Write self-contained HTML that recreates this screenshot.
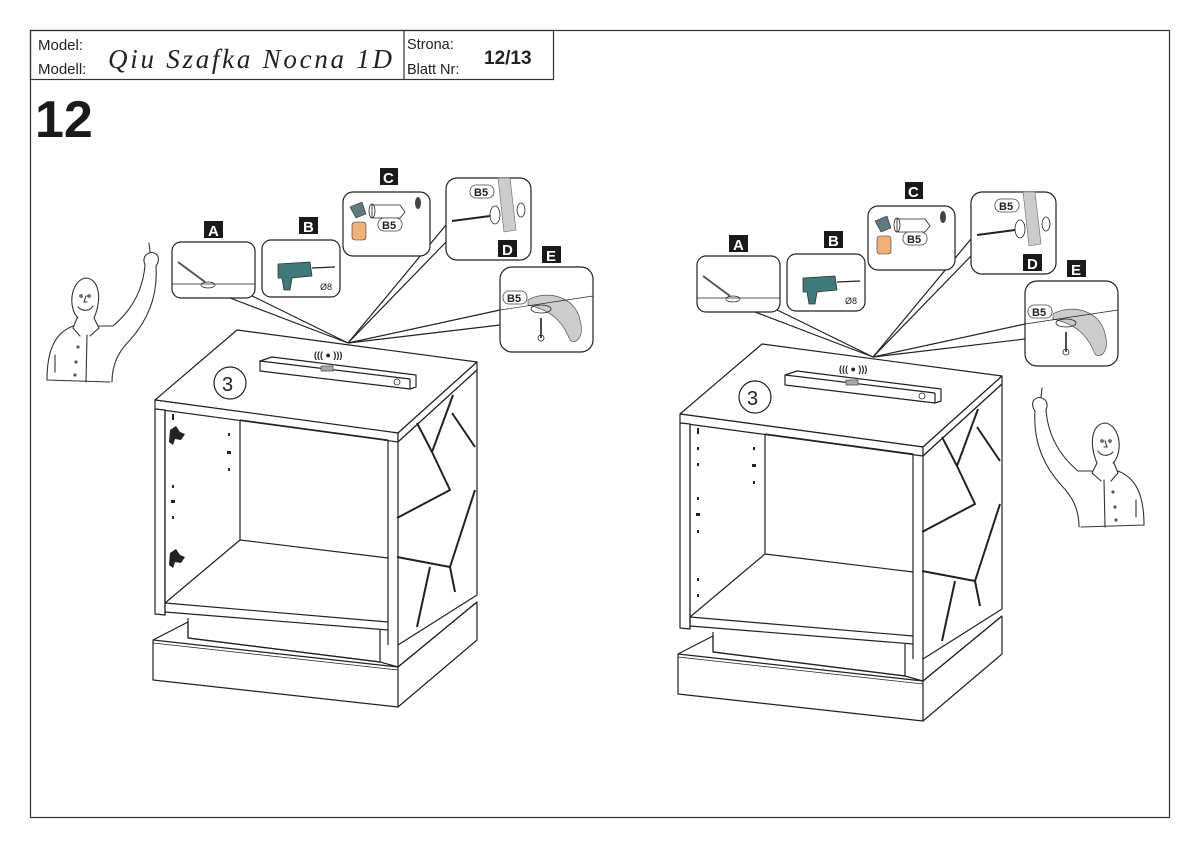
<!DOCTYPE html>
<html><head><meta charset="utf-8"><style>
html,body{margin:0;padding:0;background:#fff;}
svg{display:block;}
text{font-family:"Liberation Sans",sans-serif;}
</style></head><body>
<svg width="1200" height="848" viewBox="0 0 1200 848" xmlns="http://www.w3.org/2000/svg">
<rect x="0" y="0" width="1200" height="848" fill="#fff"/>
<rect x="30.5" y="30.5" width="1139" height="787" fill="none" stroke="#333" stroke-width="1.2"/>
<rect x="30.5" y="30.5" width="523" height="49" fill="none" stroke="#333" stroke-width="1.2"/>
<line x1="404" y1="30" x2="404" y2="80" stroke="#333" stroke-width="1.2"/>
<text x="38" y="50" font-size="15" fill="#222">Model:</text>
<text x="38" y="74" font-size="15" fill="#222">Modell:</text>
<text x="108" y="68" font-size="27" font-style="italic" fill="#222" style="font-family:'Liberation Serif',serif" textLength="284">Qiu Szafka Nocna 1D</text>
<text x="407" y="49" font-size="14.5" fill="#222">Strona:</text>
<text x="407" y="74" font-size="14.5" fill="#222">Blatt Nr:</text>
<text x="484" y="64" font-size="19" font-weight="bold" fill="#222">12/13</text>
<text x="35" y="137" font-size="52" font-weight="bold" fill="#1a1a1a">12</text>

<defs>
<g id="cab" fill="none" stroke="#222" stroke-width="1.2" stroke-linejoin="round">
  <!-- callout lines -->
  <line x1="230" y1="298" x2="348" y2="343"/>
  <line x1="240" y1="290" x2="348" y2="343"/>
  <line x1="446" y1="225" x2="348" y2="343"/>
  <line x1="448" y1="240" x2="348" y2="343"/>
  <line x1="500" y1="310" x2="348" y2="343"/>
  <line x1="500" y1="325" x2="348" y2="343"/>
  <!-- callout boxes -->
  <rect x="172" y="242" width="83" height="56" rx="9" fill="#fff"/>
  <line x1="172" y1="284" x2="255" y2="284" stroke-width="0.8"/>
  <line x1="178" y1="262" x2="205" y2="282" stroke-width="2" stroke="#555"/>
  <ellipse cx="208" cy="285" rx="7" ry="3" stroke-width="0.7"/>
  <rect x="262" y="240" width="78" height="57" rx="9" fill="#fff"/>
  <path d="M278 264 L310 262 L312 276 L292 278 L290 290 L284 290 L282 278 L278 278 Z" fill="#3f7a78" stroke="#333" stroke-width="0.8"/>
  <line x1="312" y1="268" x2="335" y2="267"/>
  <rect x="343" y="192" width="87" height="64" rx="10" fill="#fff"/>
  <path d="M350 207 L362 202 L366 214 L356 218 Z" fill="#607a80" stroke="#333" stroke-width="0.6"/>
  <rect x="352" y="222" width="14" height="18" rx="3" fill="#f0b27a" stroke="#333" stroke-width="0.6"/>
  <path d="M372 205 L400 205 L405 212 L400 218 L372 218 Z" stroke-width="0.8"/>
  <ellipse cx="372" cy="211" rx="3" ry="7" stroke-width="0.8"/>
  <ellipse cx="418" cy="203" rx="3" ry="6" fill="#444" stroke="none"/>
  <rect x="446" y="178" width="85" height="82" rx="11" fill="#fff"/>
  <path d="M498 178 L510 178 L516 230 L504 232 Z" fill="#ccc" stroke="#666" stroke-width="0.6"/>
  <line x1="452" y1="221" x2="490" y2="216" stroke-width="2"/>
  <ellipse cx="495" cy="215" rx="5" ry="9" stroke-width="0.8"/>
  <ellipse cx="521" cy="210" rx="4" ry="7" stroke-width="0.8"/>
  <rect x="500" y="267" width="93" height="85" rx="12" fill="#fff"/>
  <path d="M528 300 C545 290 575 295 580 320 C585 338 575 345 570 340 C562 320 550 310 528 305 Z" fill="#ccc" stroke="#555" stroke-width="0.7"/>
  <line x1="500" y1="310" x2="593" y2="296" stroke-width="0.7"/>
  <ellipse cx="541" cy="309" rx="10" ry="4" stroke-width="0.8"/>
  <line x1="541" y1="318" x2="541" y2="338" stroke-width="1.6"/>
  <circle cx="541" cy="338" r="3" stroke-width="0.8"/>
  <!-- cabinet top -->
  <polygon points="237,330 477,362 398,433 155,400" fill="#fff"/>
  <polygon points="155,400 398,433 398,442 155,409" fill="#fff"/>
  <polygon points="398,433 477,362 477,370 398,442" fill="#fff"/>
  <!-- level -->
  <polygon points="260,361 272,357 416,375 416,387 410,389 260,371" fill="#fff"/>
  <line x1="260" y1="361" x2="410" y2="379"/>
  <line x1="410" y1="379" x2="410" y2="389"/>
  <rect x="321" y="366" width="12" height="5" fill="#aaa" stroke="#444" stroke-width="0.7"/>
  <circle cx="397" cy="382" r="3" stroke-width="0.8"/>
  <circle cx="230" cy="383" r="16"/>
  <!-- right side panel -->
  <polygon points="398,442 477,370 477,595 398,645" fill="#fff"/>
  <!-- left panel -->
  <polygon points="155,409 165,410 165,615 155,614" fill="#fff"/>
  <line x1="165" y1="410" x2="165" y2="615"/>
  <!-- inner -->
  <line x1="240" y1="420" x2="240" y2="540"/>
  <line x1="240" y1="420" x2="388" y2="440"/>
  <line x1="388" y1="440" x2="388" y2="645"/>
  <line x1="240" y1="540" x2="388" y2="558"/>
  <line x1="240" y1="540" x2="165" y2="603"/>
  <line x1="165" y1="603" x2="388" y2="622"/>
  <line x1="165" y1="612" x2="388" y2="630"/>
  <!-- decorative -->
  <g stroke-width="2">
    <polyline points="417,423 432,452 450,490 397,518"/>
    <polyline points="453,395 432,452"/>
    <polyline points="452,413 475,447"/>
    <polyline points="475,490 450,567 455,592"/>
    <polyline points="397,557 450,567"/>
    <polyline points="430,567 417,627"/>
  </g>
  <!-- plinth -->
  <polyline points="188,618 188,638 380,662 380,630"/>
  <polygon points="153,640 188,622 188,638 380,662 398,667 477,602 477,640 398,707 153,680" fill="none"/>
  <line x1="153" y1="640" x2="398" y2="667"/>
  <line x1="153" y1="643" x2="398" y2="670" stroke-width="0.7"/>
  <line x1="398" y1="667" x2="398" y2="707"/>
  <line x1="398" y1="667" x2="477" y2="602"/>
  <line x1="398" y1="645" x2="398" y2="667"/>
</g>
</defs>

<use href="#cab"/>
<use href="#cab" transform="translate(525,14)"/>

<!-- left hinges -->
<g fill="#222">
  <path d="M170 430 l6 -4 l4 6 l5 2 l-4 6 l-6 -1 l-2 6 l-4 -3 z"/>
  <path d="M170 553 l6 -4 l4 6 l5 2 l-4 6 l-6 -1 l-2 6 l-4 -3 z"/>
  <rect x="172" y="414" width="2" height="6"/>
  <rect x="228" y="433" width="2" height="3"/><rect x="227" y="451" width="4" height="3"/><rect x="228" y="468" width="2" height="3"/>
  <rect x="172" y="485" width="2" height="3"/><rect x="171" y="500" width="4" height="3"/><rect x="172" y="516" width="2" height="3"/>
  <rect x="697" y="428" width="2" height="6"/>
  <rect x="697" y="447" width="2" height="3"/><rect x="697" y="463" width="2" height="3"/><rect x="753" y="447" width="2" height="3"/><rect x="752" y="464" width="4" height="3"/><rect x="753" y="481" width="2" height="3"/>
  <rect x="697" y="497" width="2" height="3"/><rect x="696" y="513" width="4" height="3"/><rect x="697" y="530" width="2" height="3"/>
  <rect x="697" y="578" width="2" height="3"/><rect x="697" y="594" width="2" height="3"/>
</g>

<!-- labels -->
<g font-weight="bold" font-size="15">
  <rect x="204" y="221" width="19" height="17" fill="#1a1a1a"/><text x="208" y="236" fill="#fff">A</text>
  <rect x="299" y="217" width="19" height="17" fill="#1a1a1a"/><text x="303" y="232" fill="#fff">B</text>
  <rect x="380" y="168" width="18" height="17" fill="#1a1a1a"/><text x="383" y="183" fill="#fff">C</text>
  <rect x="498" y="240" width="19" height="17" fill="#1a1a1a"/><text x="502" y="255" fill="#fff">D</text>
  <rect x="542" y="246" width="19" height="17" fill="#1a1a1a"/><text x="546" y="261" fill="#fff">E</text>
  <rect x="729" y="235" width="19" height="17" fill="#1a1a1a"/><text x="733" y="250" fill="#fff">A</text>
  <rect x="824" y="231" width="19" height="17" fill="#1a1a1a"/><text x="828" y="246" fill="#fff">B</text>
  <rect x="905" y="182" width="18" height="17" fill="#1a1a1a"/><text x="908" y="197" fill="#fff">C</text>
  <rect x="1023" y="254" width="19" height="17" fill="#1a1a1a"/><text x="1027" y="269" fill="#fff">D</text>
  <rect x="1067" y="260" width="19" height="17" fill="#1a1a1a"/><text x="1071" y="275" fill="#fff">E</text>
</g>
<g font-size="11" font-weight="bold" fill="#222">
  <rect x="378" y="218" width="24" height="13" rx="6" fill="#fff" stroke="#444" stroke-width="0.8"/><text x="382" y="229">B5</text>
  <rect x="470" y="185" width="24" height="13" rx="6" fill="#fff" stroke="#444" stroke-width="0.8"/><text x="474" y="196">B5</text>
  <rect x="503" y="291" width="24" height="13" rx="6" fill="#fff" stroke="#444" stroke-width="0.8"/><text x="507" y="302">B5</text>
  <rect x="903" y="232" width="24" height="13" rx="6" fill="#fff" stroke="#444" stroke-width="0.8"/><text x="907" y="243">B5</text>
  <rect x="995" y="199" width="24" height="13" rx="6" fill="#fff" stroke="#444" stroke-width="0.8"/><text x="999" y="210">B5</text>
  <rect x="1028" y="305" width="24" height="13" rx="6" fill="#fff" stroke="#444" stroke-width="0.8"/><text x="1032" y="316">B5</text>
  <text x="320" y="290" font-weight="normal" font-size="9">Ø8</text>
  <text x="845" y="304" font-weight="normal" font-size="9">Ø8</text>
  <text x="314" y="358" font-size="9">((( ● )))</text>
  <text x="839" y="372" font-size="9">((( ● )))</text>
</g>
<text x="222" y="391" font-size="20" fill="#222">3</text>
<text x="747" y="405" font-size="20" fill="#222">3</text>

<!-- person -->
<defs>
<g id="person" fill="none" stroke="#333" stroke-width="1.1" stroke-linecap="round">
  <path d="M78 318 C68 308 70 282 85 278 C100 278 102 300 94 318"/>
  <circle cx="81" cy="296" r="1.2"/><circle cx="89" cy="296" r="1.2"/>
  <path d="M86 296 L84 302 L87 302"/><path d="M78 307 C83 312 90 311 93 306"/>
  <path d="M77 318 L73 328 L80 336 M94 318 L99 328 L90 336"/>
  <path d="M73 326 C55 333 47 350 47 380 L110 382"/>
  <path d="M99 326 L113 326 C132 310 143 290 145 265"/>
  <path d="M145 265 C141 255 150 251 154 253 C160 255 159 262 156 266"/>
  <path d="M150 252 L149 243"/>
  <path d="M156 266 C158 295 148 320 130 340 C118 352 112 365 112 382"/>
  <path d="M87 335 L86 382"/>
  <circle cx="78" cy="347" r="1"/><circle cx="76" cy="362" r="1"/><circle cx="75" cy="375" r="1"/>
  <path d="M55 355 L55 372"/>
</g>
</defs>
<use href="#person"/>
<use href="#person" transform="translate(1191,145) scale(-1,1)"/>
</svg>
</body></html>
